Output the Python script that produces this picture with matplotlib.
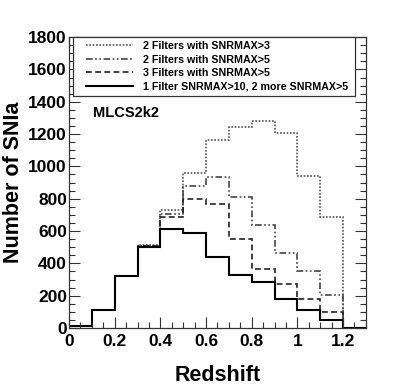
import matplotlib
matplotlib.use("Agg")
import matplotlib.pyplot as plt
import numpy as np
from matplotlib.ticker import MultipleLocator
from matplotlib.lines import Line2D
from matplotlib.legend_handler import HandlerLine2D

plt.rcParams['font.family'] = ['Liberation Sans', 'DejaVu Sans']
plt.rcParams['font.weight'] = 'bold'

# redshift bin edges
edges = [0.0, 0.1, 0.2, 0.3, 0.4, 0.5, 0.6, 0.7, 0.8, 0.9, 1.0, 1.1, 1.2, 1.3]

# number of SNIa per bin
two_snr3 = [10, 110, 320, 512, 730, 961, 1165, 1245, 1282, 1208, 940, 685, 0]
two_snr5 = [10, 110, 320, 510, 706, 879, 932, 811, 636, 461, 350, 204, 0]
three_snr5 = [10, 110, 320, 508, 685, 798, 765, 549, 366, 272, 179, 99, 0]
one_snr10 = [10, 109, 319, 504, 611, 590, 438, 327, 282, 179, 109, 51, 0]

labels = ["2 Filters with SNRMAX>3",
          "2 Filters with SNRMAX>5",
          "3 Filters with SNRMAX>5",
          "1 Filter SNRMAX>10, 2 more SNRMAX>5"]

styles = [dict(color='#555555', lw=1.2, linestyle=(0, (1, 1))),
          dict(color='#444444', lw=1.2, linestyle=(0, (4, 1.5, 1, 1.5, 1, 1.5))),
          dict(color='#222222', lw=1.2, linestyle=(0, (3.5, 2))),
          dict(color='black', lw=1.5, linestyle='-')]

fig = plt.figure(figsize=(4.07, 3.87), dpi=100)
ax = fig.add_axes([0.1695, 0.1525, 0.7295, 0.7515])

handles = []
for vals, st in zip([two_snr3, two_snr5, three_snr5, one_snr10], styles):
    ax.stairs(vals, edges, baseline=0, **st)
    handles.append(Line2D([], [], **st))

ax.set_xlim(0, 1.3)
ax.set_ylim(0, 1800)

ax.xaxis.set_minor_locator(MultipleLocator(0.05))
ax.yaxis.set_major_locator(MultipleLocator(200))
ax.yaxis.set_minor_locator(MultipleLocator(50))
ax.set_xticks([0, 0.2, 0.4, 0.6, 0.8, 1.0, 1.2])
ax.set_xticklabels(['0', '0.2', '0.4', '0.6', '0.8', '1', '1.2'])

ax.tick_params(which='both', direction='in', top=True, right=True,
               colors='#333333', labelcolor='black', labelsize=12.5)
ax.tick_params(which='major', length=8, width=0.8)
ax.tick_params(which='minor', length=4, width=0.8)
ax.tick_params(axis='x', pad=4)
ax.tick_params(axis='y', pad=1.5)
for s in ax.spines.values():
    s.set_color('#333333')
    s.set_linewidth(0.9)

ax.set_xlabel("Redshift", fontsize=15.5, fontweight='bold', labelpad=12)
ax.set_ylabel("Number of SNIa", fontsize=15.5, fontweight='bold', labelpad=3)

ax.text(0.08, 0.739, "MLCS2k2", transform=ax.transAxes, fontsize=10.5,
        fontweight='bold', va='center', ha='left')

leg = ax.legend(handles, labels, loc='upper left',
                bbox_to_anchor=(0.0135, 0.6, 0.95, 0.4),
                mode='expand', borderaxespad=0, fancybox=False,
                fontsize=7.7, handlelength=5.2, handletextpad=0.93,
                labelspacing=0.32, borderpad=0.38, framealpha=1,
                handler_map={Line2D: HandlerLine2D(xpad=0.87)})
leg.get_frame().set_edgecolor('#333333')
leg.get_frame().set_linewidth(0.9)

fig.savefig("out.png", dpi=100)
